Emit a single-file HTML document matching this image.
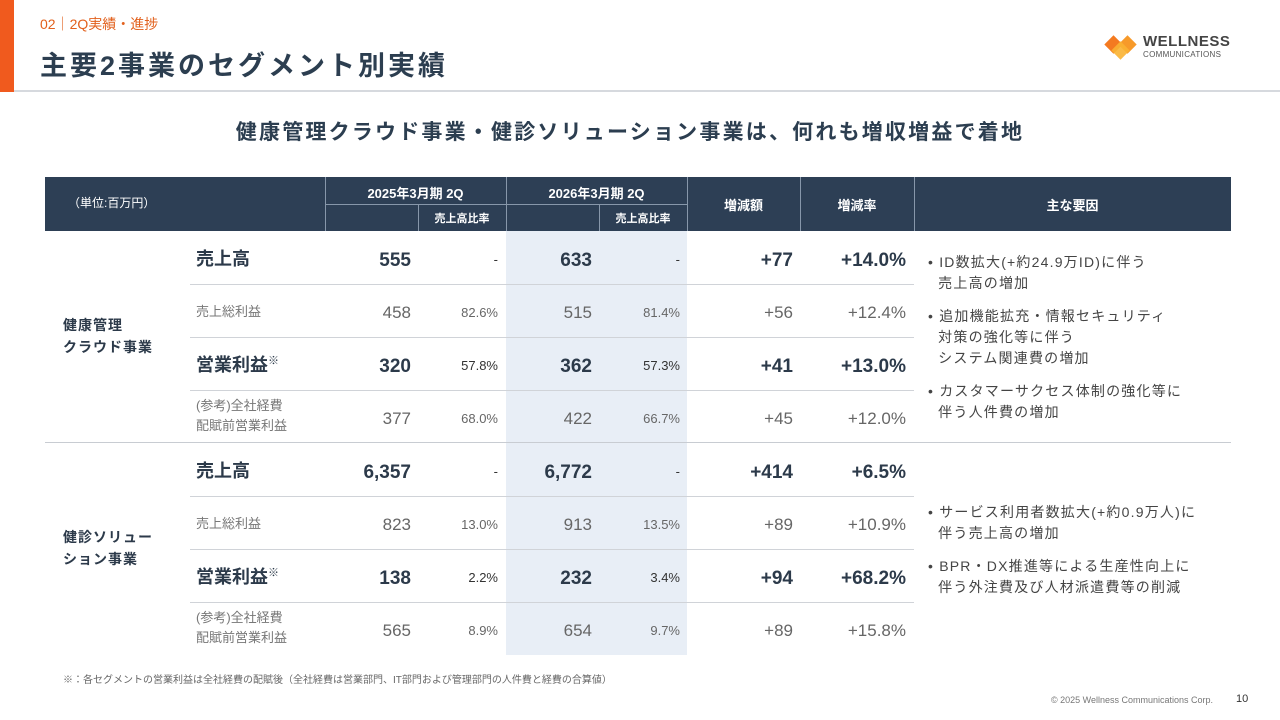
<!DOCTYPE html>
<html><head><meta charset="utf-8"><style>
*{margin:0;padding:0;box-sizing:border-box}
body{width:1280px;height:720px;background:#fff;position:relative;overflow:hidden;font-family:"Liberation Sans","Noto Sans CJK JP",sans-serif;color:#2c3a4a}
.a{position:absolute;white-space:nowrap}
</style></head><body>
<div class="a" style="left:0;top:0;width:14px;height:92px;background:#f05a1e"></div>
<div class="a" style="left:14px;top:90px;width:1266px;height:2px;background:#d6d9de"></div>
<div class="a" style="left:40px;top:14px;font-size:14px;color:#e2601c">02｜2Q実績・進捗</div>
<div class="a" style="left:40px;top:44px;font-size:27px;font-weight:bold;color:#2c3e50;letter-spacing:3px">主要2事業のセグメント別実績</div>
<div class="a" style="left:1102px;top:33px;width:140px;height:30px">
<svg width="40" height="26" style="position:absolute;left:0;top:2px"><rect x="5" y="3" width="13" height="13" transform="rotate(45 11.5 9.5)" fill="#f47a20"/><rect x="19" y="3" width="13" height="13" transform="rotate(45 25.5 9.5)" fill="#f79a2a"/><rect x="12" y="9" width="13" height="13" transform="rotate(45 18.5 15.5)" fill="#f9b233" opacity=".9"/></svg>
<div class="a" style="left:41px;top:0;font-size:15px;font-weight:bold;color:#444;letter-spacing:.5px">WELLNESS</div>
<div class="a" style="left:41px;top:17px;font-size:8px;color:#555;letter-spacing:.3px">COMMUNICATIONS</div>
</div>
<div class="a" style="left:0;width:1260px;top:116px;text-align:center;font-size:21px;font-weight:bold;color:#2c3e50;letter-spacing:2.2px">健康管理クラウド事業・健診ソリューション事業は、何れも増収増益で着地</div>

<div class="a" style="left:45px;top:177px;width:1186px;height:54px;background:#2d3f55"></div>
<div class="a" style="left:506px;top:231px;width:181px;height:424px;background:#e8eef6"></div>
<div id="tbl"></div>

<div class="a" style="left:63px;top:671px;font-size:10px;color:#666">※：各セグメントの営業利益は全社経費の配賦後（全社経費は営業部門、IT部門および管理部門の人件費と経費の合算値）</div>
<div class="a" style="left:1000px;width:213px;top:695px;font-size:9px;color:#777;text-align:right">© 2025 Wellness Communications Corp.</div>
<div class="a" style="left:1236px;top:693px;font-size:11px;color:#333">10</div>

<script>
const segments=["健康管理<br>クラウド事業","健診ソリュー<br>ション事業"];
const items=["売上高","売上総利益","営業利益<sup style='font-size:11px'>※</sup>","(参考)全社経費<br>配賦前営業利益"];
const v2025=[["555","458","320","377"],["6,357","823","138","565"]];
const r2025=[["-","82.6%","57.8%","68.0%"],["-","13.0%","2.2%","8.9%"]];
const v2026=[["633","515","362","422"],["6,772","913","232","654"]];
const r2026=[["-","81.4%","57.3%","66.7%"],["-","13.5%","3.4%","9.7%"]];
const diffs=[["+77","+56","+41","+45"],["+414","+89","+94","+89"]];
const rates=[["+14.0%","+12.4%","+13.0%","+12.0%"],["+6.5%","+10.9%","+68.2%","+15.8%"]];
const notes=[["• ID数拡大(+約24.9万ID)に伴う<br>&nbsp;&nbsp;売上高の増加","• 追加機能拡充・情報セキュリティ<br>&nbsp;&nbsp;対策の強化等に伴う<br>&nbsp;&nbsp;システム関連費の増加","• カスタマーサクセス体制の強化等に<br>&nbsp;&nbsp;伴う人件費の増加"],["• サービス利用者数拡大(+約0.9万人)に<br>&nbsp;&nbsp;伴う売上高の増加","• BPR・DX推進等による生産性向上に<br>&nbsp;&nbsp;伴う外注費及び人材派遣費等の削減"]];
const T=document.getElementById('tbl');
function add(html,style,name){const d=document.createElement('div');d.className='a';d.innerHTML=html;d.style.cssText=style;


T.appendChild(d);return d;}
add("（単位:百万円）","left:68px;top:194px;color:#fff;font-size:12px","unit-label");
[[325,"2025年3月期 2Q"],[506,"2026年3月期 2Q"]].forEach(([x,t],i)=>{
add(t,`left:${x}px;width:181px;top:183px;text-align:center;color:#fff;font-size:13px;font-weight:bold`,"period-header");
add("売上高比率",`left:${x+93}px;width:88px;top:210px;text-align:center;color:#fff;font-size:11px;font-weight:bold`,"ratio-header");
add("",`left:${x}px;top:204px;width:181px;height:1px;background:#8797aa`,"header-rule");
add("",`left:${x+93}px;top:204px;width:1px;height:27px;background:#8797aa`,"header-rule");
});
[325,506,687,800,914].forEach(x=>add("",`left:${x}px;top:177px;width:1px;height:54px;background:#8797aa`,"header-col-divider"));
add("増減額","left:687px;width:113px;top:195px;text-align:center;color:#fff;font-size:13px;font-weight:bold","diff-header");
add("増減率","left:800px;width:114px;top:195px;text-align:center;color:#fff;font-size:13px;font-weight:bold","rate-header");
add("主な要因","left:914px;width:317px;top:195px;text-align:center;color:#fff;font-size:13px;font-weight:bold","factors-header");
const RH=53;
segments.forEach((s,si)=>{
 const top=231+si*212;
 add(s,`left:63px;top:${top+83}px;font-size:14px;font-weight:bold;line-height:22px;letter-spacing:1px`,"segment-label");
 if(si==1)add("",`left:45px;top:${top-1}px;width:1186px;height:1px;background:#c8ccd2`,"segment-divider");
 items.forEach((it,ii)=>{
  const y=top+ii*RH, main=ii%2==0;
  const big=main?"font-size:19px;font-weight:bold;color:#2c3a4a":"font-size:17px;color:#666";
  const small=main?"font-size:13px;color:#333":"font-size:13px;color:#666";
  if(ii>0)add("",`left:190px;top:${y}px;width:724px;height:1px;background:#d0d3d8`,"row-divider");
  if(ii==3)add(it,`left:196px;top:${y+6}px;font-size:13px;color:#777;line-height:20px`,"item-label");
  else add(it,`left:196px;top:${y+(main?14:17)}px;${main?"font-size:18px;font-weight:bold;color:#2c3a4a":"font-size:13px;color:#777"}`,"item-label");
  const ty=y+19;
  add(v2025[si][ii],`left:311px;width:100px;top:${ty}px;text-align:right;${big}`,"value-2025");
  add(r2025[si][ii],`left:420px;width:78px;top:${y+21}px;text-align:right;${small}`,"ratio-2025");
  add(v2026[si][ii],`left:492px;width:100px;top:${ty}px;text-align:right;${big}`,"value-2026");
  add(r2026[si][ii],`left:600px;width:80px;top:${y+21}px;text-align:right;${small}`,"ratio-2026");
  add(diffs[si][ii],`left:693px;width:100px;top:${ty}px;text-align:right;${big}`,"diff-value");
  add(rates[si][ii],`left:800px;width:106px;top:${ty}px;text-align:right;${big}`,"rate-value");
 });
 const nStart=si==0?[252,306,381]:[502,556];
 notes[si].forEach((n,ni)=>add(n,`left:928px;top:${nStart[ni]}px;font-size:14px;color:#444;line-height:21px;letter-spacing:1.2px`,"factor-note"));
});
</script>
</body></html>
